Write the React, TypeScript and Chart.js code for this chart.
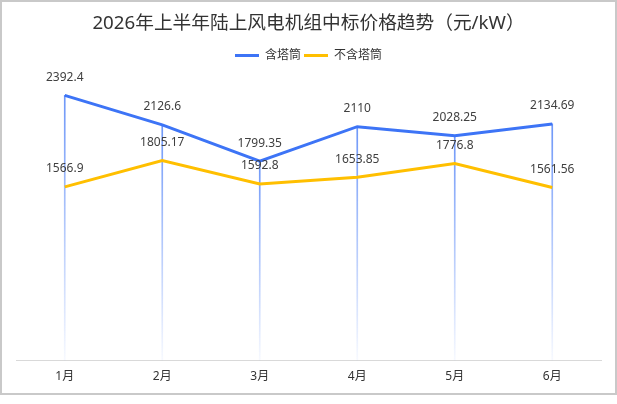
import React, { useEffect, useRef } from "react";
import { Chart, registerables } from "chart.js";

Chart.register(...registerables);

// values
const months = ["1月", "2月", "3月", "4月", "5月", "6月"];
const withTower = [2392.4, 2126.6, 1799.35, 2110, 2028.25, 2134.69];
const withoutTower = [1566.9, 1805.17, 1592.8, 1653.85, 1776.8, 1561.56];

const BLUE = "#3d74f6";
const YELLOW = "#ffbf00";
const FONT = '"Noto Sans", "Noto Sans CJK SC", sans-serif';

// value labels above each point of the two lines
const valueLabels = {
	id: "valueLabels",
	afterDatasetsDraw(chart: any) {
		const ctx = chart.ctx;
		ctx.save();
		ctx.font = `12px ${FONT}`;
		ctx.fillStyle = "#404040";
		ctx.textAlign = "center";
		ctx.textBaseline = "middle";
		[0, 1].forEach((di) => {
			const meta = chart.getDatasetMeta(di);
			const values = chart.data.datasets[di].data;
			meta.data.forEach((pt: any, i: number) => {
				ctx.fillText(String(values[i]), pt.x, pt.y - 18);
			});
		});
		ctx.restore();
	},
};

// leave some room between the legend and the plot
const legendSpacer = {
	id: "legendSpacer",
	beforeLayout(chart: any) {
		const legend = chart.legend;
		if (!legend || legend._spaced) return;
		const fit = legend.fit;
		legend.fit = function () {
			fit.call(this);
			this.height += 12;
		};
		legend._spaced = true;
	},
};

function PriceTrendChart() {
	const chartRef = useRef<HTMLCanvasElement>(null);
	const chartInstance = useRef<Chart | null>(null);

	useEffect(() => {
		if (chartInstance.current) {
			chartInstance.current.destroy();
			chartInstance.current = null;
		}
		if (!chartRef.current) return;

		chartInstance.current = new Chart(chartRef.current, {
			type: "line",
			data: {
				labels: months,
				datasets: [
					{
						label: "含塔筒",
						data: withTower,
						borderColor: BLUE,
						backgroundColor: BLUE,
						borderWidth: 3,
						tension: 0,
						pointRadius: 0,
						order: 1,
					},
					{
						label: "不含塔筒",
						data: withoutTower,
						borderColor: YELLOW,
						backgroundColor: YELLOW,
						borderWidth: 3,
						tension: 0,
						pointRadius: 0,
						order: 2,
					},
					{
						// thin drop lines under the blue points
						type: "bar",
						label: "",
						data: withTower,
						barThickness: 1,
						order: 3,
						backgroundColor: (c: any) => {
							const chart = c.chart;
							const area = chart.chartArea;
							if (!area || c.dataIndex === undefined) return "rgba(61,116,246,0.4)";
							const top = chart.scales.y.getPixelForValue(withTower[c.dataIndex]);
							const g = chart.ctx.createLinearGradient(0, top, 0, area.bottom);
							g.addColorStop(0, "rgba(61,116,246,0.75)");
							g.addColorStop(1, "rgba(61,116,246,0.04)");
							return g;
						},
					} as any,
				],
			},
			options: {
				responsive: false,
				animation: false,
				layout: { padding: { left: 16, right: 16, top: 0, bottom: 2 } },
				plugins: {
					title: {
						display: true,
						text: "2026年上半年陆上风电机组中标价格趋势（元/kW）",
						color: "#333333",
						font: { size: 18.7, family: FONT, weight: "normal" },
						padding: { top: 12, bottom: 12 },
					},
					legend: {
						display: true,
						position: "top",
						labels: {
							color: "#333333",
							font: { size: 12, family: FONT },
							usePointStyle: true,
							pointStyle: "line",
							pointStyleWidth: 24,
							padding: 3,
							filter: (item: any) => item.datasetIndex !== 2,
						},
					},
					tooltip: { enabled: false },
				},
				scales: {
					x: {
						offset: true,
						grid: { display: false, drawTicks: false },
						border: { display: true, color: "#d9d9d9", width: 1 },
						ticks: { color: "#333333", font: { size: 12, family: FONT }, padding: 9 },
					},
					y: {
						display: false,
						min: 0,
						max: 2500,
					},
				},
			},
			plugins: [valueLabels, legendSpacer],
		} as any);

		return () => {
			if (chartInstance.current) {
				chartInstance.current.destroy();
				chartInstance.current = null;
			}
		};
	}, []);

	return <canvas ref={chartRef} width={617} height={395} style={{ display: "block" }}></canvas>;
}

export default function App() {
	useEffect(() => {
		document.body.style.margin = "0";
	}, []);

	return (
		<div style={{ position: "relative", width: 617, height: 395, background: "#fff" }}>
			<PriceTrendChart />
			<div
				style={{
					position: "absolute",
					inset: 0,
					border: "2px solid #c9c9c9",
					boxSizing: "border-box",
					pointerEvents: "none",
				}}
			/>
		</div>
	);
}
